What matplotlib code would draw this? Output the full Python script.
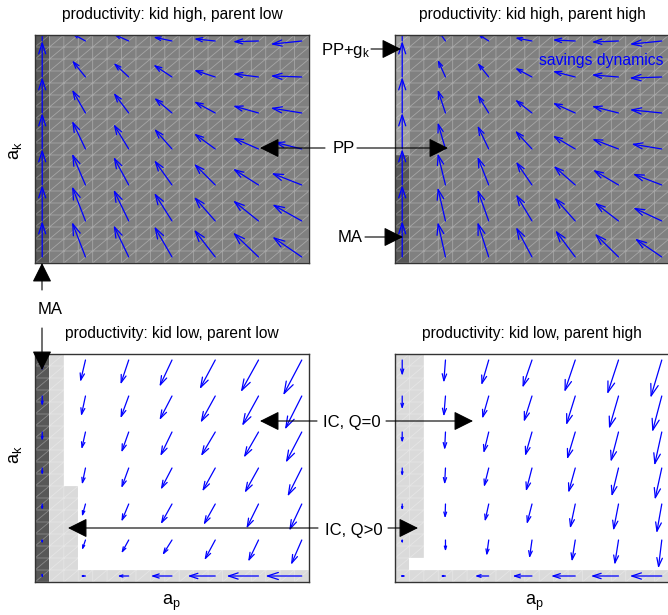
import numpy as np
import matplotlib
matplotlib.use("Agg")
import matplotlib.pyplot as plt
import matplotlib.tri as mtri
from matplotlib import font_manager
from matplotlib.colors import ListedColormap
from matplotlib.patches import FancyArrowPatch

# font: narrow sans if present
names = {f.name for f in font_manager.fontManager.ttflist}
FONT = "Liberation Sans"
for cand in ["Liberation Sans Narrow", "Arial Narrow", "Nimbus Sans Narrow"]:
    if cand in names:
        FONT = cand
        break
plt.rcParams["font.family"] = [FONT, "DejaVu Sans"]
plt.rcParams["mathtext.default"] = "regular"

W, H = 668, 615

# ---------------- data ----------------
a_p = np.arange(7)          # arrow grid (asset of parent)
a_k = np.arange(7)          # arrow grid (asset of kid)
n_cells = 19                # state grid, 3 cells per arrow step

titles = ["productivity: kid high, parent low",
          "productivity: kid high, parent high",
          "productivity: kid low, parent low",
          "productivity: kid low, parent high"]

# savings dynamics, rows listed from top (a_k=6) to bottom (a_k=0)
u_hl = [[0, -0.31, -0.35, -0.43, -0.49, -0.59, -0.72],
        [0, -0.31, -0.35, -0.43, -0.49, -0.59, -0.72],
        [0, -0.31, -0.35, -0.41, -0.49, -0.59, -0.72],
        [0, -0.31, -0.35, -0.41, -0.49, -0.59, -0.64],
        [0, -0.31, -0.35, -0.41, -0.49, -0.59, -0.70],
        [0, -0.31, -0.35, -0.41, -0.49, -0.59, -0.68],
        [0, -0.31, -0.35, -0.41, -0.49, -0.59, -0.68]]
v_hl = [[1.0, 0.21, 0.19, 0.11, 0.06, -0.02, -0.09],
        [1.0, 0.46, 0.39, 0.34, 0.19, 0.09, 0.03],
        [1.0, 0.65, 0.56, 0.42, 0.32, 0.20, 0.14],
        [1.0, 0.78, 0.69, 0.56, 0.43, 0.31, 0.19],
        [1.0, 0.87, 0.78, 0.69, 0.59, 0.45, 0.33],
        [1.0, 0.96, 0.87, 0.78, 0.67, 0.57, 0.46],
        [1.0, 0.97, 0.88, 0.85, 0.76, 0.68, 0.56]]

u_hh = [[0, -0.18, -0.26, -0.39, -0.52, -0.62, -0.74],
        [0, -0.18, -0.26, -0.39, -0.52, -0.62, -0.75],
        [0, -0.18, -0.26, -0.39, -0.52, -0.62, -0.74],
        [0, -0.18, -0.26, -0.39, -0.52, -0.61, -0.70],
        [0, -0.18, -0.26, -0.37, -0.50, -0.59, -0.67],
        [0, -0.18, -0.26, -0.37, -0.48, -0.55, -0.66],
        [0, -0.18, -0.26, -0.37, -0.46, -0.55, -0.62]]
v_hh = [[1.0, 0.30, 0.20, 0.09, 0.03, -0.03, -0.09],
        [1.0, 0.48, 0.39, 0.25, 0.16, 0.06, -0.03],
        [1.0, 0.65, 0.51, 0.37, 0.28, 0.19, 0.09],
        [1.0, 0.74, 0.65, 0.51, 0.37, 0.28, 0.14],
        [1.0, 0.88, 0.79, 0.65, 0.53, 0.42, 0.31],
        [1.0, 0.93, 0.87, 0.74, 0.65, 0.51, 0.37],
        [1.0, 0.97, 0.97, 0.83, 0.74, 0.65, 0.51]]

u_ll = [[0, -0.12, -0.19, -0.29, -0.36, -0.41, -0.43],
        [0, -0.10, -0.19, -0.29, -0.34, -0.38, -0.39],
        [0, -0.09, -0.17, -0.27, -0.33, -0.34, -0.37],
        [0, -0.08, -0.17, -0.26, -0.30, -0.32, -0.33],
        [0, -0.08, -0.17, -0.26, -0.27, -0.28, -0.29],
        [0, -0.08, -0.17, -0.22, -0.25, -0.24, -0.25],
        [0, -0.12, -0.26, -0.49, -0.64, -0.74, -0.84]]
v_ll = [[-0.30, -0.61, -0.68, -0.74, -0.81, -0.89, -0.98],
        [-0.28, -0.56, -0.62, -0.67, -0.74, -0.83, -0.93],
        [-0.25, -0.48, -0.57, -0.67, -0.67, -0.71, -0.85],
        [-0.20, -0.46, -0.56, -0.60, -0.65, -0.69, -0.79],
        [-0.17, -0.35, -0.49, -0.56, -0.58, -0.68, -0.74],
        [-0.10, -0.28, -0.37, -0.42, -0.56, -0.60, -0.69],
        [-0.03, 0, 0, 0, 0, 0, 0]]

u_lh = [[0, -0.04, -0.17, -0.22, -0.25, -0.26, -0.26],
        [0, -0.04, -0.15, -0.19, -0.21, -0.22, -0.22],
        [0, -0.02, -0.12, -0.16, -0.19, -0.18, -0.17],
        [0, -0.02, -0.11, -0.14, -0.16, -0.16, -0.16],
        [0, -0.01, -0.09, -0.12, -0.12, -0.12, -0.12],
        [0, 0.0, -0.05, -0.06, -0.08, -0.09, -0.08],
        [-0.02, -0.12, -0.32, -0.45, -0.56, -0.64, -0.74]]
v_lh = [[-0.44, -0.63, -0.70, -0.77, -0.89, -0.95, -1.05],
        [-0.37, -0.57, -0.63, -0.72, -0.81, -0.91, -1.00],
        [-0.30, -0.50, -0.59, -0.67, -0.76, -0.83, -0.93],
        [-0.23, -0.46, -0.53, -0.65, -0.69, -0.79, -0.88],
        [-0.18, -0.40, -0.49, -0.56, -0.68, -0.74, -0.81],
        [-0.10, -0.32, -0.44, -0.51, -0.60, -0.69, -0.79],
        [0, 0, 0, 0, 0, 0, 0]]

# regime codes: 0 white, 1 PP (mid gray), 2 MA (dark), 3 PP+g_k (light gray), 4 IC Q>0
region_colors = ["#ffffff", "#808080", "#575757", "#9e9e9e", "#dadada"]
# (first col, last col, first row, last row, code) in state-grid cells, rows from bottom
base_hl, regions_hl = 1, [(0, 0, 0, 18, 2)]
base_hh, regions_hh = 1, [(0, 0, 0, 8, 2), (0, 0, 9, 18, 3)]
base_ll, regions_ll = 0, [(1, 18, 0, 0, 4), (1, 1, 0, 18, 4), (2, 2, 0, 7, 4), (0, 0, 0, 18, 2)]
base_lh, regions_lh = 0, [(0, 18, 0, 0, 4), (0, 0, 0, 18, 4), (1, 1, 2, 18, 4)]

panels = [
    (titles[0], u_hl, v_hl, base_hl, regions_hl, (35, 35)),
    (titles[1], u_hh, v_hh, base_hh, regions_hh, (395, 35)),
    (titles[2], u_ll, v_ll, base_ll, regions_ll, (35, 354)),
    (titles[3], u_lh, v_lh, base_lh, regions_lh, (395, 354)),
]

# ---------------- figure ----------------
fig = plt.figure(figsize=(W / 100, H / 100), dpi=100)

edges = (np.arange(n_cells + 1) - 0.5) / 3.0
ex, ey = np.meshgrid(edges, edges)
tris = []
for j in range(n_cells):
    for i in range(n_cells):
        p = j * (n_cells + 1) + i
        tris.append([p, p + 1, p + n_cells + 2])
        tris.append([p, p + n_cells + 2, p + n_cells + 1])
mesh = mtri.Triangulation(ex.ravel(), ey.ravel(), np.array(tris))
cmap = ListedColormap(region_colors)

for title, u, v, base, regions, (left, top) in panels:
    ax = fig.add_axes([left / W, 1 - (top + 228) / H, 274 / W, 228 / H])
    codes = np.full((n_cells, n_cells), base)
    for c0, c1, r0, r1, code in regions:
        codes[r0:r1 + 1, c0:c1 + 1] = code
    ax.pcolormesh(edges, edges, codes, cmap=cmap, vmin=-0.5, vmax=4.5)
    ax.triplot(mesh, color="white", alpha=0.3, lw=0.6)
    ax.set_xlim(edges[0], edges[-1])
    ax.set_ylim(edges[0], edges[-1])
    ax.set_xticks([])
    ax.set_yticks([])
    for s in ax.spines.values():
        s.set_color("#333333")
        s.set_linewidth(1.0)
    ax.text(0.5, 1.092, title, transform=ax.transAxes, ha="center",
            va="center", fontsize=11.2)

    U = np.array(u)[::-1]
    V = np.array(v)[::-1]
    for j in range(len(a_k)):
        for i in range(len(a_p)):
            x0, y0 = a_p[i], a_k[j]
            x1, y1 = x0 + U[j, i], y0 + V[j, i]
            d = ax.transData.transform([(x0, y0), (x1, y1)])
            L = np.hypot(*(d[1] - d[0]))
            if L < 0.5:
                continue
            ms = max(0.3 * L * 0.72 / 0.4, 1.0)
            ax.add_patch(FancyArrowPatch((x0, y0), (x1, y1),
                                         arrowstyle="->,head_length=0.4,head_width=0.13",
                                         mutation_scale=ms, color="blue", lw=0.9,
                                         shrinkA=0, shrinkB=0))


def fp(x, y):
    return (x / W, 1 - y / H)


def ann_arrow(tail, head):
    fig.add_artist(FancyArrowPatch(fp(*tail), fp(*head), transform=fig.transFigure,
                                   arrowstyle="-|>,head_length=0.8,head_width=0.4",
                                   mutation_scale=15, color="black", lw=0.8,
                                   shrinkA=0, shrinkB=0))


# annotations
fig.text(*fp(344, 148), "PP", ha="center", va="center", fontsize=12)
ann_arrow((325, 148), (260, 148))
ann_arrow((357, 148), (448, 148))

fig.text(*fp(346, 50), "PP+g$_k$", ha="center", va="center", fontsize=12)
ann_arrow((371, 49), (401, 49))

fig.text(*fp(350, 238), "MA", ha="center", va="center", fontsize=12)
ann_arrow((365, 237), (403, 237))

fig.text(*fp(50, 310), "MA", ha="center", va="center", fontsize=12)
ann_arrow((42, 290), (42, 263))
ann_arrow((42, 328), (42, 370))

fig.text(*fp(352, 423), "IC, Q=0", ha="center", va="center", fontsize=12)
ann_arrow((317, 421), (260, 421))
ann_arrow((386, 421), (473, 421))

fig.text(*fp(354, 530), "IC, Q>0", ha="center", va="center", fontsize=12)
ann_arrow((318, 528), (68, 528))
ann_arrow((388, 528), (418, 528))

fig.text(*fp(601, 60), "savings dynamics", ha="center", va="center",
         fontsize=11.3, color="blue")

# axis labels
fig.text(*fp(16, 151), "$a_k$", ha="center", va="center", rotation=90, fontsize=13)
fig.text(*fp(16, 455), "$a_k$", ha="center", va="center", rotation=90, fontsize=13)
fig.text(*fp(171, 603), "$a_p$", ha="center", va="center", fontsize=13)
fig.text(*fp(534, 603), "$a_p$", ha="center", va="center", fontsize=13)

fig.savefig("out.png", dpi=100)
